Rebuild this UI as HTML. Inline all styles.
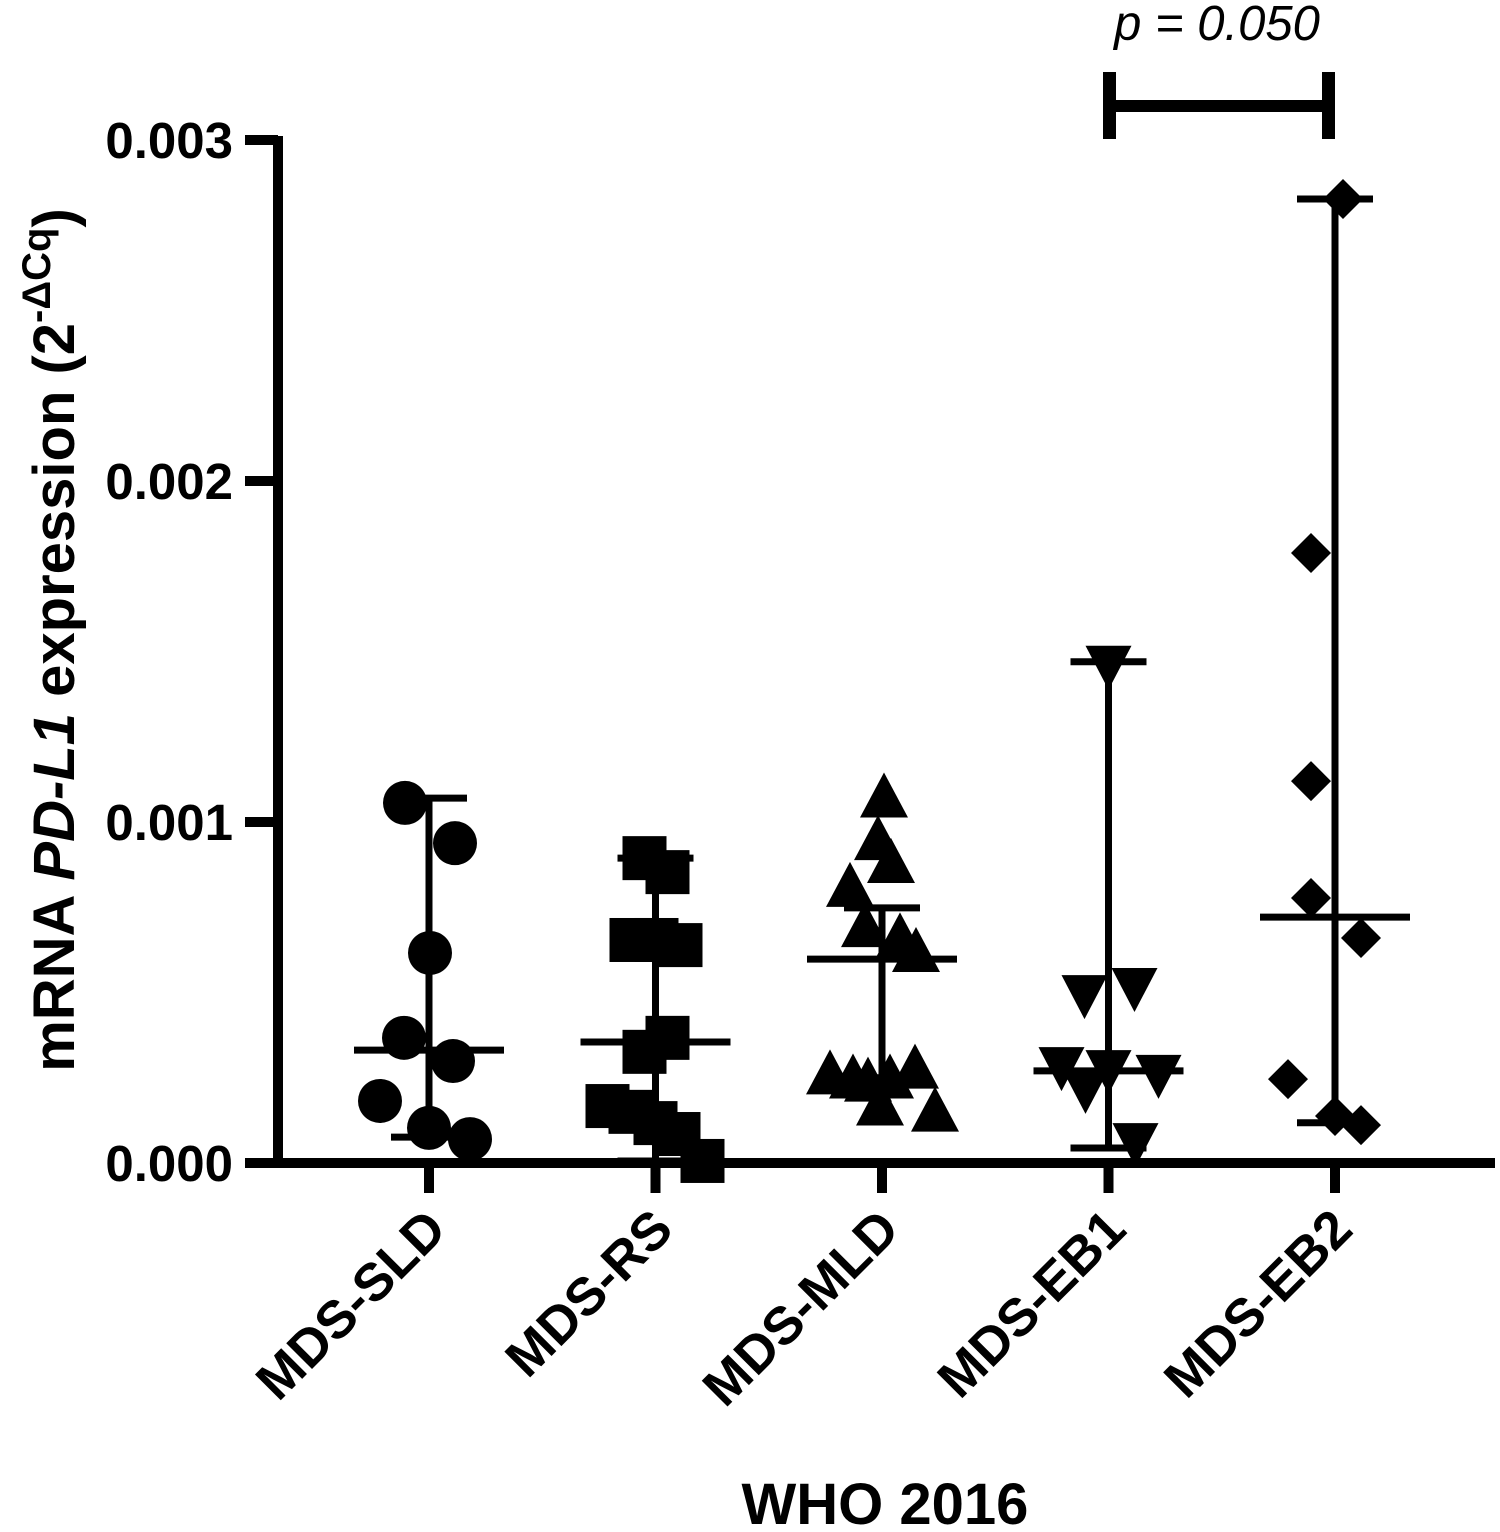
<!DOCTYPE html>
<html><head><meta charset="utf-8">
<style>
html,body{margin:0;padding:0;background:#fff;}
svg{display:block;font-family:"Liberation Sans",Arial,sans-serif;}
</style></head>
<body>
<svg id="chart" width="1500" height="1532" viewBox="0 0 1500 1532" xmlns="http://www.w3.org/2000/svg">
<g id="axes"></g>
<g id="marks"></g>
<text transform="translate(74,640) rotate(-90)" text-anchor="middle" font-size="58" font-weight="bold">mRNA <tspan font-style="italic">PD-L1</tspan> expression (2<tspan dy="-24" font-size="40">-ΔCq</tspan><tspan dy="24">)</tspan></text>
<text x="885" y="1524" text-anchor="middle" font-size="58" font-weight="bold">WHO 2016</text>
<g>
<rect x="1103" y="100" width="232" height="12" fill="#000"/>
<rect x="1103" y="72" width="13" height="67" fill="#000"/>
<rect x="1322" y="72" width="13" height="67" fill="#000"/>
<text x="1217" y="40" text-anchor="middle" font-size="49" font-style="italic">p = 0.050</text>
</g>
</svg>
<script>
const categories = ["MDS-SLD","MDS-RS","MDS-MLD","MDS-EB1","MDS-EB2"];
const shapes = ["circle","square","triangle","down-triangle","diamond"];
const yTicks = [0, 0.001, 0.002, 0.003];
const yTickLabels = ["0.000","0.001","0.002","0.003"];
const sldValues = [0.001056,0.000938,0.000616,0.000367,0.000299,0.000182,0.000103,0.00007];
const sldOffsets = [-24,26,1,-25,24,-49,0,41];
const rsValues = [0.000894,0.000853,0.000654,0.000654,0.000639,0.000367,0.000326,0.000167,0.00015,0.000117,0.000085,0.000006];
const rsOffsets = [-11,12,-24,1,25,12,-11,-48,-25,0,23,47];
const mldValues = [0.00106,0.000935,0.000868,0.000798,0.00068,0.00065,0.000607,0.000248,0.000236,0.000227,0.000236,0.000265,0.000157,0.000139];
const mldOffsets = [2,-4,9,-32,-17,18,34,-52,-29,-14,8,33,-2,53];
const eb1Values = [0.00147,0.000525,0.000504,0.000293,0.000284,0.00027,0.000226,0.00007];
const eb1Offsets = [0,26,-24,-47,0,50,-23,27];
const eb2Values = [0.002827,0.001789,0.00112,0.000777,0.00066,0.000246,0.000138,0.000111];
const eb2Offsets = [8,-24,-24,-24,26,-47,0,26];
const medians = [0.000331,0.000355,0.000598,0.00027,0.000721];
const whiskerHigh = [0.00107,0.000894,0.000748,0.00147,0.002827];
const whiskerLow = [0.000076,0.000006,0.00025,0.000044,0.000118];

const NS="http://www.w3.org/2000/svg";
const X0=278, Y0=1163, YT=140, XSTEP=226.5, XFIRST=429, XEND=1495;
function yScale(v){ return Y0 - (v/0.003)*(Y0-YT); }
function xScale(i){ return XFIRST + i*XSTEP; }
function mk(tag, attrs, parent){ const e=document.createElementNS(NS,tag); for(const k in attrs) e.setAttribute(k,attrs[k]); parent.appendChild(e); return e; }
const axes=document.getElementById('axes'), marks=document.getElementById('marks');

let yl=mk('line',{x1:X0,y1:YT-4,x2:X0,y2:Y0+5,stroke:'#000','stroke-width':10},axes);


let xl=mk('line',{x1:X0-5,y1:Y0,x2:XEND,y2:Y0,stroke:'#000','stroke-width':10},axes);


yTicks.forEach((t,i)=>{
  const y=yScale(t);
  const tk=mk('line',{x1:245,y1:y,x2:X0,y2:y,stroke:'#000','stroke-width':10},axes);
  
  
  const tx=mk('text',{x:233,y:y+18,'text-anchor':'end','font-size':51,'font-weight':'bold'},axes);
  tx.textContent=yTickLabels[i];
  
  
});
categories.forEach((c,i)=>{
  const x=xScale(i);
  const tk=mk('line',{x1:x,y1:Y0,x2:x,y2:1193,stroke:'#000','stroke-width':10},axes);
  
  
  const tx=mk('text',{transform:`translate(${x+20},${1232}) rotate(-45)`,'text-anchor':'end','font-size':53,'font-weight':'bold'},axes);
  tx.textContent=c;
  
  
});

function drawMarker(shape,cx,cy){
  let e;
  if(shape==='circle') e=mk('circle',{cx:cx,cy:cy,r:22,fill:'#000'},marks);
  else if(shape==='square') e=mk('rect',{x:cx-22,y:cy-22,width:44,height:44,fill:'#000'},marks);
  else if(shape==='triangle') e=mk('polygon',{points:`${cx},${cy-29} ${cx+24},${cy+16} ${cx-24},${cy+16}`,fill:'#000'},marks);
  else if(shape==='down-triangle') e=mk('polygon',{points:`${cx},${cy+28} ${cx+23},${cy-16} ${cx-23},${cy-16}`,fill:'#000'},marks);
  else e=mk('polygon',{points:`${cx},${cy-20} ${cx+20},${cy} ${cx},${cy+20} ${cx-20},${cy}`,fill:'#000'},marks);
  
  
}
const groups=[[sldValues,sldOffsets],[rsValues,rsOffsets],[mldValues,mldOffsets],[eb1Values,eb1Offsets],[eb2Values,eb2Offsets]];
groups.forEach((g,i)=>{
  const x=xScale(i);
  const w=mk('line',{x1:x,y1:yScale(whiskerHigh[i]),x2:x,y2:yScale(whiskerLow[i]),stroke:'#000','stroke-width':7},marks);
  
  
  [whiskerHigh[i],whiskerLow[i]].forEach(v=>{
    const cp=mk('line',{x1:x-38,y1:yScale(v),x2:x+38,y2:yScale(v),stroke:'#000','stroke-width':7},marks);
    
    
  });
  g[0].forEach((v,j)=>drawMarker(shapes[i],x+g[1][j],yScale(v)));
  const m=mk('line',{x1:x-75,y1:yScale(medians[i]),x2:x+75,y2:yScale(medians[i]),stroke:'#000','stroke-width':7},marks);
  
  
});
</script>
</body></html>
